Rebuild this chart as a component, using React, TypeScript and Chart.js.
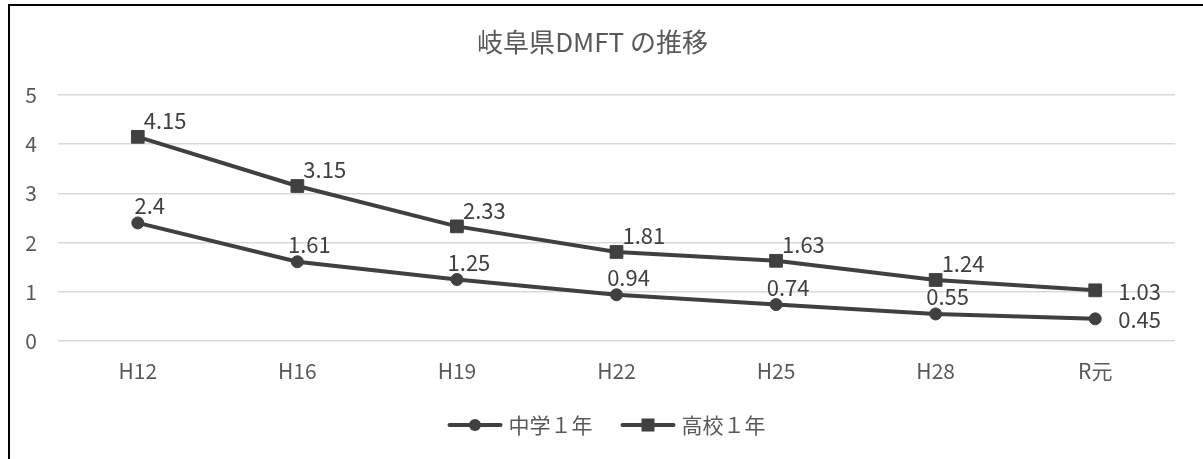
import React, { useEffect, useRef } from "react";
import { Chart, registerables } from "chart.js";

Chart.register(...registerables);

const categories = ["H12", "H16", "H19", "H22", "H25", "H28", "R元"];
const juniorHigh = [2.4, 1.61, 1.25, 0.94, 0.74, 0.55, 0.45];
const highSchool = [4.15, 3.15, 2.33, 1.81, 1.63, 1.24, 1.03];
const seriesNames = ["中学１年", "高校１年"];
const chartTitle = "岐阜県DMFT の推移";
const yMin = 0;
const yMax = 5;
const yStep = 1;

const FONT = "'Noto Sans CJK JP', 'Noto Sans', sans-serif";
const LINE_COLOR = "#404040";
const TEXT_COLOR = "#595959";

const dataLabelPlugin = {
  id: "dataLabels",
  afterDatasetsDraw(chart: any) {
    const ctx = chart.ctx;
    ctx.save();
    ctx.font = `22px ${FONT}`;
    ctx.fillStyle = LINE_COLOR;
    ctx.textBaseline = "middle";
    chart.data.datasets.forEach((ds: any, di: number) => {
      const meta = chart.getDatasetMeta(di);
      const n = meta.data.length;
      meta.data.forEach((pt: any, i: number) => {
        const v = ds.data[i];
        let x: number, y: number, align: CanvasTextAlign;
        if (i === n - 1) {
          x = pt.x + 23;
          y = pt.y + 1;
          align = "left";
        } else if (ds.labelMode === "right") {
          x = pt.x + 6;
          y = pt.y - 16;
          align = "left";
        } else {
          x = pt.x + 12;
          y = pt.y - 17;
          align = "center";
        }
        ctx.textAlign = align;
        ctx.fillText(String(v), x, y);
      });
    });
    ctx.restore();
  },
};

const legendPlugin = {
  id: "customLegend",
  afterDraw(chart: any) {
    const ctx = chart.ctx;
    ctx.save();
    ctx.font = `21px ${FONT}`;
    ctx.textBaseline = "middle";
    const lineLen = 55;
    const gap = 6;
    const itemGap = 28;
    const items = chart.data.datasets.map((ds: any) => ({
      ds,
      w: lineLen + gap + ctx.measureText(ds.label).width,
    }));
    const total = items.reduce((s: number, it: any) => s + it.w, 0) + itemGap * (items.length - 1);
    let x = chart.width / 2 - total / 2;
    const y = chart.height - 34;
    items.forEach((it: any) => {
      ctx.strokeStyle = LINE_COLOR;
      ctx.lineWidth = 4;
      ctx.lineCap = "round";
      ctx.beginPath();
      ctx.moveTo(x + 2, y);
      ctx.lineTo(x + lineLen - 2, y);
      ctx.stroke();
      ctx.fillStyle = LINE_COLOR;
      const cx = x + lineLen / 2;
      if (it.ds.pointStyle === "rect") {
        ctx.fillRect(cx - 6.5, y - 6.5, 13, 13);
      } else {
        ctx.beginPath();
        ctx.arc(cx, y, 6, 0, Math.PI * 2);
        ctx.fill();
      }
      ctx.fillStyle = TEXT_COLOR;
      ctx.textAlign = "left";
      ctx.fillText(it.ds.label, x + lineLen + gap, y);
      x += it.w + itemGap;
    });
    ctx.restore();
  },
};

export default function App() {
  const canvasRef = useRef<HTMLCanvasElement | null>(null);

  useEffect(() => {
    if (!canvasRef.current) return;
    const chart = new Chart(canvasRef.current, {
      type: "line",
      data: {
        labels: categories,
        datasets: [
          {
            label: seriesNames[0],
            data: juniorHigh,
            borderColor: LINE_COLOR,
            backgroundColor: LINE_COLOR,
            borderWidth: 4,
            pointStyle: "circle",
            pointRadius: 6,
            pointBorderWidth: 1,
            pointBackgroundColor: LINE_COLOR,
            pointBorderColor: LINE_COLOR,
            tension: 0,
            labelMode: "above",
          } as any,
          {
            label: seriesNames[1],
            data: highSchool,
            borderColor: LINE_COLOR,
            backgroundColor: LINE_COLOR,
            borderWidth: 4,
            pointStyle: "rect",
            pointRadius: 9,
            pointBorderWidth: 1,
            pointBackgroundColor: LINE_COLOR,
            pointBorderColor: LINE_COLOR,
            tension: 0,
            labelMode: "right",
          } as any,
        ],
      },
      options: {
        animation: false,
        responsive: true,
        maintainAspectRatio: false,
        devicePixelRatio: 1,
        layout: { padding: { top: 0, left: 0, right: 28, bottom: 0 } },
        plugins: {
          legend: { display: false },
          tooltip: { enabled: false },
          title: {
            display: true,
            text: chartTitle,
            color: TEXT_COLOR,
            font: { family: FONT, size: 26, weight: "normal" },
            padding: { top: 21, bottom: 36.8 },
          },
        },
        scales: {
          x: {
            offset: true,
            grid: { display: false, drawTicks: false },
            border: { display: false },
            ticks: {
              color: TEXT_COLOR,
              font: { family: FONT, size: 21 },
              padding: 17,
              maxRotation: 0,
            },
            afterFit(scale: any) {
              scale.height = 118;
            },
          },
          y: {
            min: yMin,
            max: yMax,
            ticks: {
              stepSize: yStep,
              color: TEXT_COLOR,
              font: { family: FONT, size: 21 },
              padding: 21,
            },
            grid: { color: "#d9d9d9", lineWidth: 1.5, drawTicks: false },
            border: { display: false },
            afterFit(scale: any) {
              scale.width = 48;
            },
          },
        },
      },
      plugins: [dataLabelPlugin, legendPlugin],
    });
    return () => chart.destroy();
  }, []);

  return (
    <>
      <div
        style={{
          position: "absolute",
          left: 8,
          top: 4,
          width: 1195,
          height: 455,
          boxSizing: "border-box",
          borderTop: "2px solid #000",
          borderLeft: "2px solid #000",
          background: "#fff",
        }}
      />
      <div style={{ position: "absolute", left: 10, top: 6, width: 1193, height: 453 }}>
        <canvas ref={canvasRef} />
      </div>
    </>
  );
}
